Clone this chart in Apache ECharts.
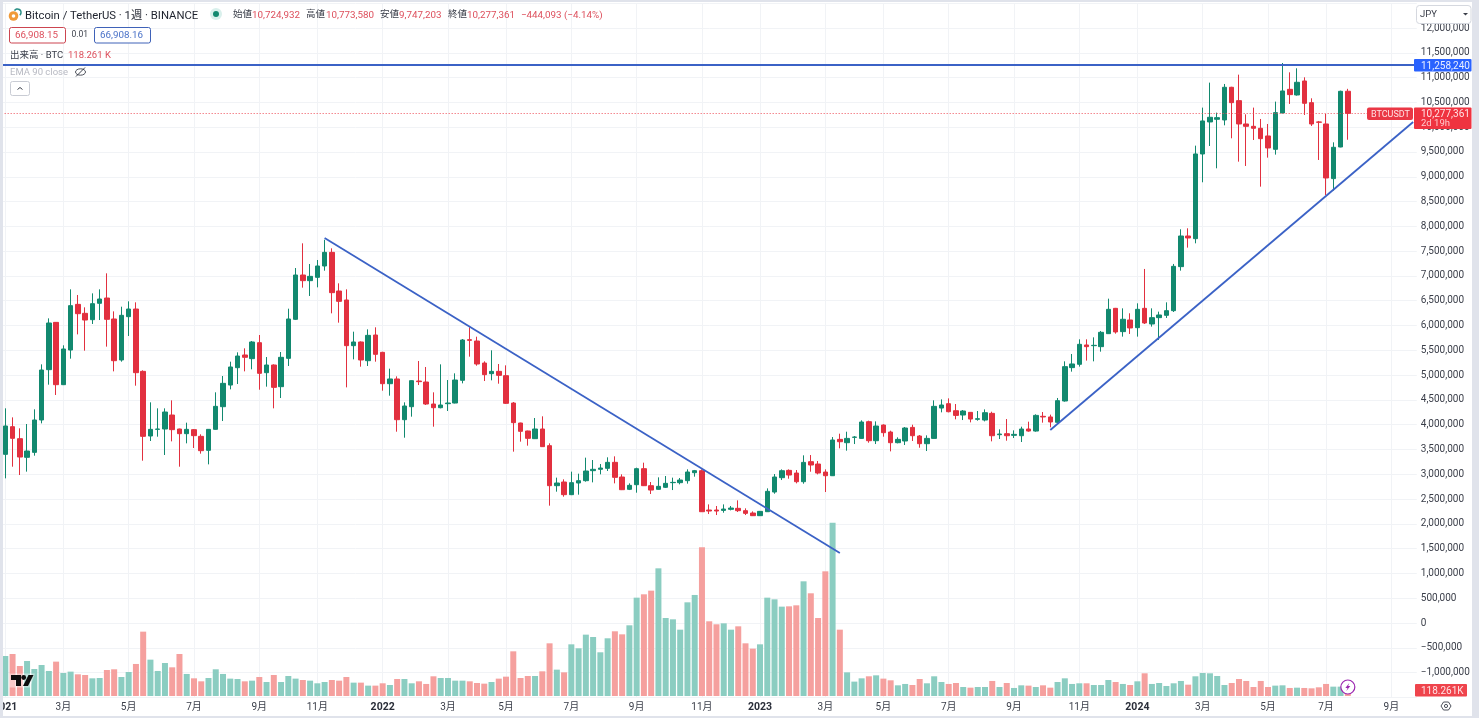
<!DOCTYPE html>
<html>
<head>
<meta charset="utf-8">
<title>BTC/USDT weekly</title>
<script src="https://cdn.jsdelivr.net/npm/echarts@6/dist/echarts.min.js"></script>
<style>
  html, body { margin: 0; padding: 0; background: #fff; }
  #chart { width: 1479px; height: 718px; }
</style>
</head>
<body>
<div id="chart"></div>
<script>
// all prices are in thousands of JPY
const opens = [
  3402,3960,3718,3342,3442,4095,5110,6064,4807,5506,
  6427,6246,6118,6448,6555,6132,5305,6179,6333,5076,
  3772,3906,3913,4195,3913,3819,3900,3765,3483,3906,
  4363,4800,5150,5406,5332,5654,5049,5204,4767,5338,
  6125,7019,6905,6972,7201,7476,6696,6515,5594,5668,
  5291,5809,5459,4827,4922,4101,4363,4881,4861,4417,
  4343,4424,4437,4895,5715,5688,5244,5029,5076,4989,
  4437,4034,3873,3718,3913,3577,2770,2844,2589,2824,
  2871,3073,3100,3120,3241,2945,2696,2790,3113,2770,
  2696,2737,2831,2831,2871,3032,3072,2279,2279,2272,
  2293,2313,2266,2219,2165,2245,2642,2931,3079,3025,
  2850,3254,3207,3045,2971,3704,3637,3745,3724,4061,
  3677,3993,3852,3637,3671,3946,3772,3617,3724,4336,
  4424,4282,4195,4249,4108,4094,4229,3798,3819,3785,
  3778,3913,3872,4169,4156,4048,4478,5151,5218,5608,
  5594,5574,5836,6347,5877,6112,5957,6347,6031,6159,
  6206,6300,7188,7806,7752,9460,10106,10159,10146,10805,
  10536,10065,10018,9978,9823,9554,10287,10764,10650,10932,
  10495,10106,10065,8963,9601,10725
]
const closes = [
  3974,3725,3348,3469,4095,5103,6051,4807,5527,6401,
  6239,6111,6441,6535,6125,5291,6206,6333,5049,3765,
  3906,3913,4256,3900,3819,3906,3779,3476,3906,4370,
  4834,5164,5385,5359,5668,5036,5204,4753,5359,6132,
  7019,6905,6992,7201,7476,6663,6488,5594,5668,5305,
  5802,5419,4827,4922,4101,4377,4888,4868,4417,4343,
  4397,4437,4901,5708,5701,5224,5009,5076,4995,4431,
  4041,3866,3725,3913,3557,2770,2824,2589,2831,2871,
  3066,3100,3126,3241,2938,2689,2777,3113,2770,2682,
  2757,2817,2837,2884,3046,3073,2245,2259,2259,2299,
  2319,2266,2212,2165,2252,2656,2945,3072,2985,2850,
  3240,3187,3025,2971,3691,3657,3724,3751,4054,3677,
  3973,3839,3637,3704,3933,3778,3617,3724,4370,4397,
  4262,4188,4276,4114,4121,4242,3778,3812,3778,3805,
  3913,3872,4188,4156,4055,4485,5171,5225,5621,5574,
  5601,5863,6327,5870,6126,5951,6327,6052,6159,6213,
  6300,7194,7806,7766,9460,10126,10200,10193,10805,10495,
  10065,10018,9978,9769,9581,10294,10731,10657,10906,10482,
  10065,10099,8976,9595,10724,10277
]
const lows = [
  2918,3153,2985,3053,3375,4027,4807,4599,4800,5332,
  5822,5493,6031,6111,5574,5076,5271,5789,4787,3274,
  3671,3758,3389,3664,3153,3624,3530,3416,3200,3900,
  4074,4713,4821,5076,5117,4706,4767,4330,4538,5184,
  6111,6764,6596,6770,7106,6246,6058,4753,5318,5170,
  5184,5271,4686,4585,3859,3738,4162,4800,4397,3960,
  4330,4276,4430,4834,5372,5190,4881,4895,4827,4417,
  3456,3658,3577,3711,3550,2367,2649,2548,2580,2589,
  2851,2837,2999,3066,2817,2682,2682,2629,2763,2602,
  2689,2723,2682,2797,2811,2952,2240,2198,2178,2225,
  2272,2239,2178,2158,2158,2239,2608,2884,2911,2817,
  2810,3052,2998,2642,2965,3523,3476,3610,3717,3637,
  3610,3758,3462,3624,3590,3671,3536,3469,3717,4249,
  4249,4108,4094,4047,4081,4067,3664,3711,3677,3731,
  3651,3859,3859,4041,3947,4028,4465,5070,5171,5292,
  5278,5473,5830,5836,5776,5830,5776,6031,5978,5709,
  6152,6273,7107,7571,7658,8889,9621,9171,10038,9776,
  9305,9218,9742,8801,9386,9447,10280,10469,10637,10247,
  10025,9339,8633,8721,9595,9747
]
const highs = [
  4330,4148,3927,4014,4310,5217,6145,6070,5601,6730,
  6616,6367,6649,6730,7053,6286,6380,6488,6468,5096,
  4451,4330,4330,4491,3920,4041,3913,3806,3912,4653,
  4982,5271,5459,5540,5688,5809,5365,5217,5466,6340,
  7160,7658,7241,7322,7730,7557,6851,6730,5876,5680,
  5923,5964,5470,5130,4975,4451,4895,5285,5164,4653,
  5217,4901,5036,5728,5964,5775,5278,5500,5224,5197,
  4458,4040,3880,4135,4169,3624,2932,2898,3053,3012,
  3335,3288,3207,3342,3362,2999,2817,3133,3234,2844,
  2938,2965,2932,2925,3100,3087,3099,2393,2360,2393,
  2360,2474,2313,2252,2260,2716,3005,3099,3099,3086,
  3382,3388,3267,3099,3751,3819,3859,3771,4088,4081,
  4067,4007,3879,3745,3953,4000,3792,3785,4491,4511,
  4531,4417,4296,4255,4276,4309,4262,3906,4114,3886,
  3960,4061,4209,4256,4203,4539,5278,5426,5722,5722,
  5762,5890,6542,6355,6347,6247,6448,7141,6347,6280,
  6468,7242,7941,7961,9628,10395,10899,10294,10872,10815,
  11060,10260,10395,10166,10065,10516,11295,11107,11188,11006,
  10583,10126,10267,9695,10737,10774
]
// weekly volume in K BTC
const volumes = [
  788,828,591,690,532,611,493,677,453,480,
  427,414,348,355,512,526,374,473,631,1268,
  716,493,650,565,828,434,348,289,355,526,
  434,342,335,289,302,374,276,414,276,394,
  342,315,302,250,276,315,302,374,263,263,
  204,204,250,217,335,335,250,289,237,388,
  355,355,302,302,289,256,243,276,342,381,
  880,355,394,394,486,1038,519,466,1018,940,
  1209,1163,861,1137,1275,1215,1393,1938,2004,2076,
  2516,1537,1511,1307,1846,1991,2930,1472,1413,1432,
  1307,1373,1038,933,1018,1938,1905,1761,1767,1787,
  2260,2024,1537,2457,3416,1307,466,283,348,388,
  407,342,309,210,237,217,335,250,388,276,
  237,256,177,164,177,177,296,177,256,158,
  210,204,177,210,164,276,348,237,250,250,
  217,217,315,276,237,217,289,447,237,256,
  197,250,296,223,388,453,447,394,217,256,
  335,296,177,296,177,204,210,158,164,158,
  151,171,237,184,184,118.261
]

const weekCount = 195 // includes the empty weeks on the right
const tickWeeks = [0,8,17,26,35,43,52,61,69,78,87,96,104,113,121,130,139,148,156,165,174,182,191]
const tickLabels = ['2021','3月','5月','7月','9月','11月','2022','3月','5月','7月','9月','11月','2023','3月','5月','7月','9月','11月','2024','3月','5月','7月','9月']

const resistance = 11258.24
const lastPrice = 10277.361
const lastVolume = 118.261
const downTrend = [[44, 7765], [115, 1412]]
const upTrend = [[144, 3893], [194, 10105]]

const UP = '#12896f'
const DOWN = '#e2303f'
const UP_VOL = '#8bcdc1'
const DOWN_VOL = '#f5a09e'
const LINE = '#3b62c6'
const GRID = '#f1f3f6'
const FONT = 'Roboto, "Noto Sans CJK JP", sans-serif'

const categories = Array.from({ length: weekCount }, (_, i) => String(i))
const candles = opens.map((o, i) => [o, closes[i], lows[i], highs[i]])
const volumeBars = volumes.map((v, i) => ({
  value: v,
  itemStyle: { color: closes[i] >= opens[i] ? UP_VOL : DOWN_VOL }
}))

const isTickWeek = (i) => tickWeeks.includes(i)
const fmtPrice = (v) => {
  if (v === 12500 || v === -1500) return ''
  return (v * 1000).toLocaleString('en-US').replace('-', '−')
}

const chart = echarts.init(document.getElementById('chart'), null, { renderer: 'canvas' })

chart.setOption({
  animation: false,
  backgroundColor: '#fff',
  textStyle: { fontFamily: FONT },
  grid: { left: 1.67, top: 3.25, width: 1415.1, height: 694.15, containLabel: false, outerBoundsMode: 'none' },
  xAxis: {
    type: 'category',
    data: categories,
    axisLine: { show: false },
    axisTick: { show: false, alignWithLabel: true, interval: isTickWeek },
    axisLabel: {
      interval: isTickWeek,
      margin: 5,
      fontSize: 10,
      color: '#3a3e49',
      fontFamily: FONT,
      formatter: (v, i) => {
        const label = tickLabels[tickWeeks.indexOf(Number(v))]
        return label.length === 4 ? '{year|' + label + '}' : label
      },
      rich: { year: { fontWeight: 'bold', fontSize: 10.5, color: '#2a2e39', fontFamily: FONT } }
    },
    splitLine: {
      show: true,
      alignWithLabel: true,
      interval: isTickWeek,
      lineStyle: { color: GRID, width: 1 }
    }
  },
  yAxis: [
    {
      type: 'value',
      position: 'right',
      min: -1500,
      max: 12500,
      interval: 500,
      axisLine: { show: false },
      axisTick: { show: false },
      axisLabel: { margin: 4, fontSize: 10, padding: [2, 0, 0, 0], color: '#3a3e49', fontFamily: FONT, formatter: fmtPrice },
      splitLine: { lineStyle: { color: GRID, width: 1 } }
    },
    { type: 'value', show: false, min: -28, max: 13654, splitLine: { show: false } }
  ],
  series: [
    {
      name: 'Volume',
      type: 'bar',
      yAxisIndex: 1,
      data: volumeBars,
      barWidth: 6,
      z: 1
    },
    {
      name: 'BTCUSDT',
      type: 'candlestick',
      data: candles,
      barWidth: 5,
      z: 3,
      itemStyle: { color: UP, color0: DOWN, borderColor: UP, borderColor0: DOWN, borderWidth: 1 },
      markLine: {
        silent: true,
        symbol: 'none',
        label: { show: false },
        animation: false,
        data: [
          { yAxis: resistance, lineStyle: { color: LINE, width: 2, type: 'solid' } },
          { yAxis: lastPrice, lineStyle: { color: '#ee4d58', width: 1, type: [1, 2] } }
        ]
      }
    },
    {
      type: 'line',
      data: downTrend,
      symbol: 'none',
      silent: true,
      z: 4,
      lineStyle: { color: LINE, width: 1.8 }
    },
    {
      type: 'line',
      data: upTrend,
      symbol: 'none',
      silent: true,
      z: 4,
      lineStyle: { color: LINE, width: 1.8 }
    }
  ]
})

// header, price tags and little icons
const txt = (x, y, text, fill, size, extra) => ({
  type: 'text',
  z: 50,
  silent: true,
  x,
  y: y + 0.7,
  style: Object.assign({ text, fill, font: (size || 10) + 'px ' + FONT, verticalAlign: 'middle' }, extra || {})
})
const box = (x, y, width, height, fill, stroke, r) => ({
  type: 'rect',
  z: 45,
  silent: true,
  shape: { x, y, width, height, r: r || 0 },
  style: { fill: fill || 'none', stroke: stroke || 'none', lineWidth: 1 }
})
const ln = (x1, y1, x2, y2, stroke, w) => ({
  type: 'line',
  z: 50,
  silent: true,
  shape: { x1, y1, x2, y2 },
  style: { stroke, lineWidth: w || 1 }
})
const poly = (points, fill) => ({
  type: 'polygon',
  z: 50,
  silent: true,
  shape: { points },
  style: { fill }
})

const RED_TXT = '#dd4f5c'
const priceY = (v) => chart.convertToPixel({ yAxisIndex: 0 }, v)
const volY = (v) => chart.convertToPixel({ yAxisIndex: 1 }, v)
const resY = priceY(resistance)
const lastY = priceY(lastPrice)
const lastX = chart.convertToPixel({ xAxisIndex: 0 }, '185')
const volLabelY = volY(lastVolume)

const graphics = [
  // coin icon
  { type: 'circle', z: 50, silent: true, shape: { cx: 13.5, cy: 16, r: 4.8 }, style: { fill: '#f09a38' } },
  { type: 'circle', z: 51, silent: true, shape: { cx: 13.5, cy: 16, r: 1.8 }, style: { fill: '#fff' } },
  { type: 'arc', z: 50, silent: true, shape: { cx: 17.5, cy: 12.5, r: 3.5, startAngle: -2.6, endAngle: 0.9 }, style: { stroke: '#2a8f86', lineWidth: 1.6, fill: 'none' } },
  txt(25, 15, 'Bitcoin / TetherUS · 1週 · BINANCE', '#1e222d', 11.3),
  // market status dot
  { type: 'circle', z: 50, silent: true, shape: { cx: 216, cy: 14, r: 6 }, style: { fill: '#d9f0ec' } },
  { type: 'circle', z: 51, silent: true, shape: { cx: 216, cy: 14, r: 3 }, style: { fill: '#12896f' } },
  txt(233, 14, '始値', '#3a3e49', 9.5),
  txt(252, 14.5, '10,724,932', RED_TXT, 9.8),
  txt(306, 14, '高値', '#3a3e49', 9.5),
  txt(326, 14.5, '10,773,580', RED_TXT, 9.8),
  txt(380, 14, '安値', '#3a3e49', 9.5),
  txt(399, 14.5, '9,747,203', RED_TXT, 9.8),
  txt(448, 14, '終値', '#3a3e49', 9.5),
  txt(467, 14.5, '10,277,361', RED_TXT, 9.8),
  txt(521, 14.5, '−444,093 (−4.14%)', RED_TXT, 9.8),
  // bid / ask
  box(9.5, 27.5, 56, 15.5, '#fff', '#cc4550', 2),
  txt(15, 35, '66,908.15', RED_TXT, 9.8),
  txt(71.5, 34.5, '0.01', '#3a3e49', 8.5),
  box(94.5, 27.5, 56, 15.5, '#fff', '#3f62b8', 2),
  txt(100, 35, '66,908.16', '#4a72c8', 9.8),
  txt(10, 54.5, '出来高 · BTC', '#3a3e49', 9.5),
  txt(68, 54.5, '118.261 K', RED_TXT, 9.5),
  txt(10, 71.5, 'EMA 90 close', '#b7b9c2', 9.5),
  // eye crossed out
  { type: 'ellipse', z: 50, silent: true, shape: { cx: 80.5, cy: 72, rx: 5, ry: 3.2 }, style: { fill: 'none', stroke: '#3a3e49', lineWidth: 0.9 } },
  ln(76, 76.5, 85, 67.5, '#3a3e49', 1),
  // collapse button
  box(10.5, 81.5, 19, 14, '#fff', '#c9ccd4', 2),
  ln(17.5, 89.5, 20, 87.5, '#3a3e49', 1),
  ln(20, 87.5, 22.5, 89.5, '#3a3e49', 1),
  // currency selector
  box(1416.5, 5.5, 54.5, 18, '#fff', '#d5d8df', 3),
  txt(1420, 14, 'JPY', '#3a3e49', 9.5),
  poly([[1463, 13], [1468, 13], [1465.5, 15.5]], '#3a3e49'),
  // resistance tag
  box(1414, 59, 57.5, 12.5, '#2962ff', null, 1),
  txt(1421, resY + 0.5, '11,258,240', '#e8eeff', 10),
  // last price tags
  box(1367, lastY - 6, 46, 12.5, '#ea3745', null, 2),
  txt(1371, lastY + 0.5, 'BTCUSDT', '#ffe3e5', 9),
  box(1414, lastY - 6, 57.5, 21.5, '#ef3340', null, 1),
  txt(1421, lastY + 0.5, '10,277,361', '#ffe3e5', 10),
  txt(1421, lastY + 9.5, '2d 19h', '#ffc9cd', 9.5),
  // volume tag
  box(1415, volLabelY - 6, 52, 12.5, '#ef444c', null, 1),
  txt(1421, volLabelY + 0.5, '118.261K', '#ffe3e5', 10),
  // gear at the corner of the axes
  { type: 'polygon', z: 50, silent: true, shape: { points: [[1441, 706], [1443.5, 702], [1448.5, 702], [1451, 706], [1448.5, 710], [1443.5, 710]] }, style: { fill: '#fff', stroke: '#3a3e49', lineWidth: 0.9 } },
  { type: 'circle', z: 51, silent: true, shape: { cx: 1446, cy: 706, r: 1.6 }, style: { fill: 'none', stroke: '#3a3e49', lineWidth: 0.9 } },
  // lightning badge on the last bar
  { type: 'circle', z: 50, silent: true, shape: { cx: lastX, cy: 687, r: 7 }, style: { fill: '#fff', stroke: '#9c27b0', lineWidth: 1.2 } },
  poly([[lastX + 1.5, 683], [lastX - 2.5, 688], [lastX - 0.3, 688], [lastX - 1.5, 691], [lastX + 2.5, 686], [lastX + 0.3, 686]], '#9c27b0'),
  // logo
  poly([[9.5, 673.5], [35, 673.5], [30, 687.5], [9.5, 687.5]], 'rgba(255,255,255,0.45)'),
  poly([[11, 675], [21, 675], [21, 686], [16, 686], [16, 680], [11, 680]], '#0d0d0d'),
  { type: 'circle', z: 50, silent: true, shape: { cx: 23.7, cy: 677.5, r: 2.4 }, style: { fill: '#0d0d0d' } },
  poly([[28.5, 675], [33.5, 675], [28, 686], [23, 686]], '#0d0d0d'),
  // outer frame of the screenshot
  box(0, 0, 3, 718, '#e0e3eb'),
  box(0, 0, 1479, 2, '#e0e3eb'),
  box(1472, 0, 7, 718, '#e0e3eb'),
  box(0, 716, 1479, 2, '#e0e3eb')
]
chart.setOption({ graphic: graphics })
</script>
</body>
</html>
